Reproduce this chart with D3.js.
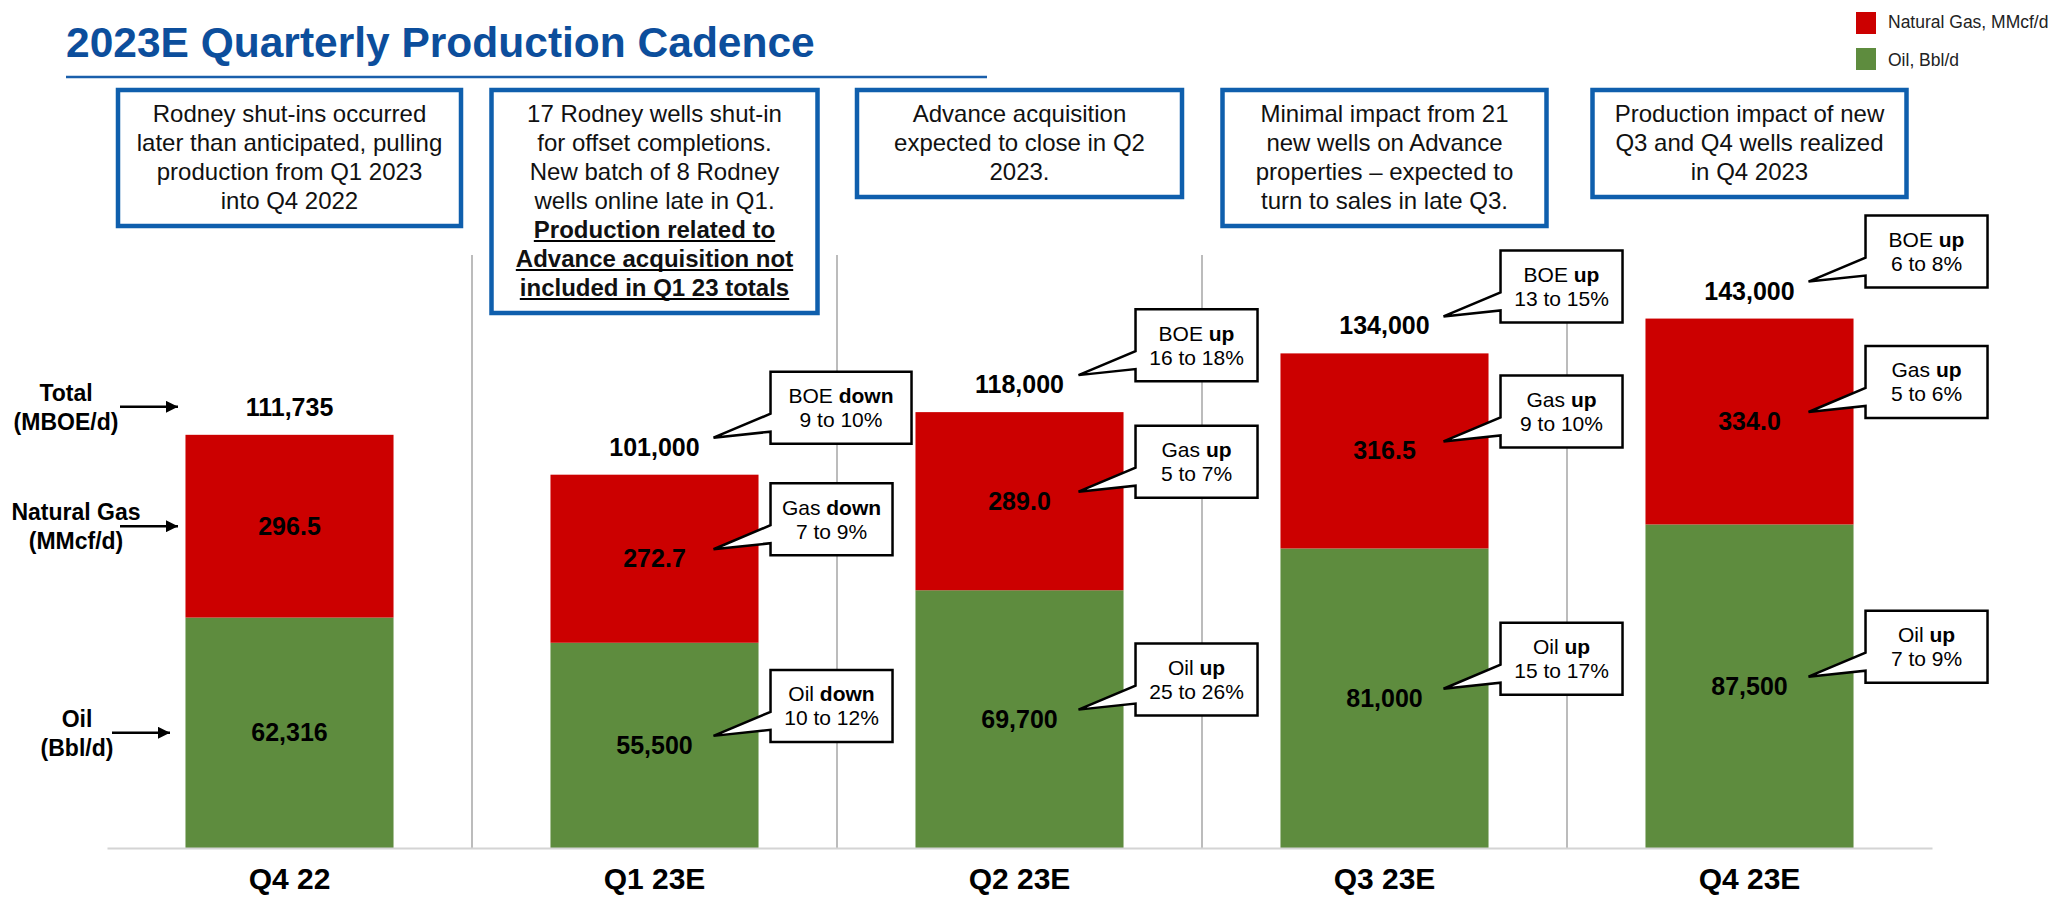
<!DOCTYPE html>
<html lang="en">
<head>
<meta charset="UTF-8">
<title>2023E Quarterly Production Cadence</title>
<script src="https://d3js.org/d3.v7.min.js"></script>
<style>
  body { margin: 0; background: #fff; }
  svg { display: block; font-family: Arial, "Liberation Sans", sans-serif; }
</style>
</head>
<body>
<svg id="chart"></svg>
<script>
// data
const quarters = ["Q4 22", "Q1 23E", "Q2 23E", "Q3 23E", "Q4 23E"];
const oil = [62316, 55500, 69700, 81000, 87500];          // Bbl/d
const gas = [296.5, 272.7, 289.0, 316.5, 334.0];          // MMcf/d
const totals = [111735, 101000, 118000, 134000, 143000];  // BOE/d

const noteLines = [
  ["Rodney shut-ins occurred", "later than anticipated, pulling", "production from Q1 2023", "into Q4 2022"],
  ["17 Rodney wells shut-in", "for offset completions.", "New batch of 8 Rodney", "wells online late in Q1."],
  ["Advance acquisition", "expected to close in Q2", "2023."],
  ["Minimal impact from 21", "new wells on Advance", "properties \u2013 expected to", "turn to sales in late Q3."],
  ["Production impact of new", "Q3 and Q4 wells realized", "in Q4 2023"]
];
const noteBoldLines = [
  [],
  ["Production related to", "Advance acquisition not", "included in Q1 23 totals"],
  [], [], []
];

const boeDir = [null, "down", "up", "up", "up"];
const boeRange = [null, "9 to 10%", "16 to 18%", "13 to 15%", "6 to 8%"];
const gasDir = [null, "down", "up", "up", "up"];
const gasRange = [null, "7 to 9%", "5 to 7%", "9 to 10%", "5 to 6%"];
const oilDir = [null, "down", "up", "up", "up"];
const oilRange = [null, "10 to 12%", "25 to 26%", "15 to 17%", "7 to 9%"];

const seriesNames = ["Natural Gas, MMcf/d", "Oil, Bbl/d"];
const sideLabels = [["Total", "(MBOE/d)"], ["Natural Gas", "(MMcf/d)"], ["Oil", "(Bbl/d)"]];

// layout
const width = 2059, height = 897;
const RED = "#cc0000", GREEN = "#5e8c3e", BLUE = "#0f5fad", TITLE = "#0c4e9c";
const noteW = [347, 330, 329, 328, 318];

const svg = d3.select("#chart").attr("width", width).attr("height", height);

const rows = quarters.map((q, i) => ({ q, i, oil: oil[i], gasBoe: gas[i] * 1000 / 6 }));
const stack = d3.stack().keys(["oil", "gasBoe"])(rows);

const x = d3.scaleBand().domain(quarters).range([107, 1932]).paddingInner(0.43).paddingOuter(0.215);
const y = d3.scaleLinear().domain([0, 150000]).range([848, 293.3]);
const color = d3.scaleOrdinal().domain(["oil", "gasBoe"]).range([GREEN, RED]);

// title
svg.append("text").attr("x", 66).attr("y", 57)
  .attr("font-size", 42.5).attr("font-weight", "bold").attr("fill", TITLE)
  .text("2023E Quarterly Production Cadence");
svg.append("line").attr("x1", 66).attr("x2", 987).attr("y1", 77).attr("y2", 77)
  .attr("stroke", "#1a5fab").attr("stroke-width", 2.5);

// legend
const leg = svg.append("g");
seriesNames.forEach((s, k) => {
  leg.append("rect").attr("x", 1856).attr("y", 12 + k * 36).attr("width", 20).attr("height", 22)
    .attr("fill", k === 0 ? RED : GREEN);
  leg.append("text").attr("x", 1888).attr("y", 28 + k * 38).attr("font-size", 17.5).attr("fill", "#222").text(s);
});

// separators between quarters
const sepX = quarters.slice(1).map(q => x(q) - x.step() * x.paddingInner() / 2);
svg.append("g").selectAll("line").data(sepX).join("line")
  .attr("x1", d => d).attr("x2", d => d).attr("y1", 255).attr("y2", 848)
  .attr("stroke", "#a6a6a6").attr("stroke-width", 1.5);

// bars
svg.append("g").selectAll("g").data(stack).join("g")
  .attr("fill", d => color(d.key))
  .selectAll("rect").data(d => d).join("rect")
  .attr("x", d => x(d.data.q))
  .attr("width", x.bandwidth())
  .attr("y", d => y(d[1]))
  .attr("height", d => y(d[0]) - y(d[1]));

// axis
const axis = svg.append("g").attr("transform", "translate(0,848)")
  .call(d3.axisBottom(x).tickSize(0).tickPadding(20));
axis.select(".domain").attr("stroke", "#d4d4d4").attr("stroke-width", 2);
axis.selectAll("text").attr("font-size", 30).attr("font-weight", "bold").attr("fill", "#000")
  .attr("font-family", "Arial, 'Liberation Sans', sans-serif");

// value labels
const labelY = rows.map((r, i) => {
  const top = y(stack[1][i][1]);
  return {
    total: top - 19,
    gas: (y(stack[1][i][0]) + top) / 2 + 8.5,
    oil: (y(0) + y(stack[0][i][1])) / 2 + 8.5
  };
});
const vals = svg.append("g").attr("font-weight", "bold").attr("font-size", 25).attr("text-anchor", "middle").attr("fill", "#000");
rows.forEach((r, i) => {
  const cx = x(r.q) + x.bandwidth() / 2;
  vals.append("text").attr("x", cx).attr("y", labelY[i].total).text(d3.format(",")(totals[i]));
  vals.append("text").attr("x", cx).attr("y", labelY[i].gas).text(d3.format(".1f")(gas[i]));
  vals.append("text").attr("x", cx).attr("y", labelY[i].oil).text(d3.format(",")(oil[i]));
});

// side labels with arrows
svg.append("defs").append("marker")
  .attr("id", "arrow").attr("viewBox", "0 -6 12 12")
  .attr("refX", 12).attr("refY", 0)
  .attr("markerWidth", 12).attr("markerHeight", 12)
  .attr("markerUnits", "userSpaceOnUse").attr("orient", "auto")
  .append("path").attr("d", "M0,-6L12,0L0,6Z").attr("fill", "#000");
const sideY = [labelY[0].total - 9, labelY[0].gas - 8.5, labelY[0].oil - 8.5];
const sideX = [66, 76, 77];
const arrowX = [[120, 178], [120, 178], [112, 170]];
sideLabels.forEach((lines, k) => {
  const t = svg.append("text").attr("text-anchor", "middle").attr("font-size", 23).attr("font-weight", "bold");
  lines.forEach((l, j) => t.append("tspan").attr("x", sideX[k]).attr("y", sideY[k] - 6 + j * 29).text(l));
  svg.append("line").attr("x1", arrowX[k][0]).attr("x2", arrowX[k][1])
    .attr("y1", sideY[k]).attr("y2", sideY[k])
    .attr("stroke", "#000").attr("stroke-width", 2.5).attr("marker-end", "url(#arrow)");
});

// note boxes on top
noteLines.forEach((lines, i) => {
  const all = lines.concat(noteBoldLines[i]);
  const cx = x(quarters[i]) + x.bandwidth() / 2;
  const w = noteW[i], h = all.length * 29 + 24, top = 88;
  svg.append("rect").attr("x", cx - w / 2 + 2).attr("y", top + 2).attr("width", w - 4).attr("height", h - 4)
    .attr("fill", "#fff").attr("stroke", BLUE).attr("stroke-width", 4.5);
  all.forEach((l, j) => {
    const bold = j >= lines.length;
    const t = svg.append("text").attr("x", cx).attr("y", top + 34 + j * 29)
      .attr("text-anchor", "middle").attr("font-size", 24)
      .attr("font-weight", bold ? "bold" : "normal").attr("fill", "#111").text(l);
    if (bold) {
      const tw = t.node().getComputedTextLength();
      svg.append("line").attr("x1", cx - tw / 2).attr("x2", cx + tw / 2)
        .attr("y1", top + 37 + j * 29).attr("y2", top + 37 + j * 29)
        .attr("stroke", "#000").attr("stroke-width", 2);
    }
  });
});

// callouts
const callouts = [];
rows.forEach((r, i) => {
  if (!boeDir[i]) return;
  const right = x(r.q) + x.bandwidth();
  callouts.push({ right, ty: labelY[i].total - 18, name: "BOE", dir: boeDir[i], range: boeRange[i] });
  callouts.push({ right, ty: labelY[i].gas - 18, name: "Gas", dir: gasDir[i], range: gasRange[i] });
  callouts.push({ right, ty: labelY[i].oil - 18, name: "Oil", dir: oilDir[i], range: oilRange[i] });
});
const cg = svg.append("g");
callouts.forEach(c => {
  const tipX = c.right - 45, tipY = c.ty;
  const L = tipX + 57, B = tipY + 6, h = 72, T = B - h;
  const g = cg.append("g");
  const path = g.append("path");
  const t = g.append("text").attr("text-anchor", "middle").attr("font-size", 21).attr("fill", "#000");
  const l1 = t.append("tspan").attr("y", T + h / 2 - 4.5);
  l1.append("tspan").text(c.name + " ");
  l1.append("tspan").attr("font-weight", "bold").text(c.dir);
  const l2 = t.append("tspan").attr("y", T + h / 2 + 19.5).text(c.range);
  const tw = l1.node().getComputedTextLength();
  const w = tw > 102 ? Math.round(tw + 36) : 122;
  l1.attr("x", L + w / 2);
  l2.attr("x", L + w / 2);
  path.attr("d", `M${L},${T}H${L + w}V${B}H${L}V${T + 60}L${tipX},${tipY}L${L},${T + 42}Z`)
    .attr("fill", "#fff").attr("stroke", "#000").attr("stroke-width", 2.5).attr("stroke-linejoin", "miter");
});
</script>
</body>
</html>
